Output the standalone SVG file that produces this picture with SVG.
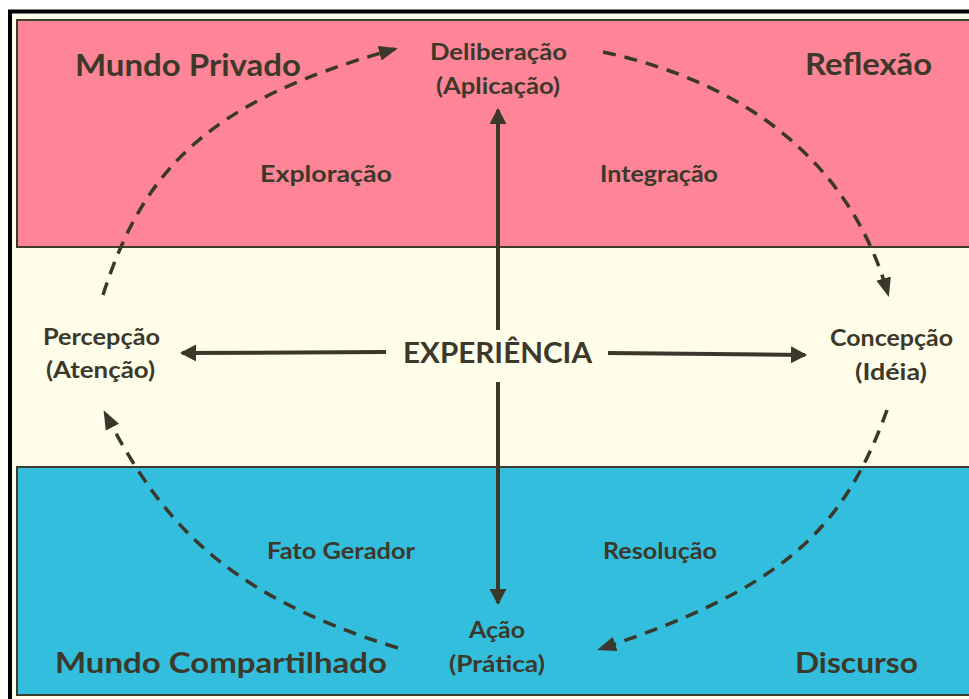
<svg xmlns="http://www.w3.org/2000/svg" width="969" height="699" viewBox="0 0 969 699">
<style>
  text { font-family: Lato, "Open Sans", "Liberation Sans", sans-serif; fill: #3c392b; font-weight: bold; }
  .title { font-size: 31px; }
  .title2 { font-size: 29px; }
  .lbl { font-size: 23px; }
  .big { font-size: 28px; }
  .solid { stroke: #3a382a; stroke-width: 4; fill: none; }
  .dash { stroke: #3a382a; stroke-width: 3.5; fill: none; stroke-dasharray: 13 9; }
</style>
<defs>
  <marker id="ah" markerUnits="userSpaceOnUse" markerWidth="16" markerHeight="17" refX="14" refY="8.5" orient="auto">
    <path d="M0,0 L16,8.5 L0,17 z" fill="#3a382a"/>
  </marker>
  <marker id="dh" markerUnits="userSpaceOnUse" markerWidth="19" markerHeight="15" refX="16" refY="7.5" orient="auto">
    <path d="M0,0 L19,7.5 L0,15 z" fill="#3a382a"/>
  </marker>
</defs>
<rect x="0" y="0" width="969" height="699" fill="#ffffff"/>
<rect x="10" y="11.5" width="975" height="700" fill="#fefdea" stroke="#000000" stroke-width="4"/>
<g id="band-reflexao">
  <rect x="17" y="20" width="960" height="227" fill="#fe8497" stroke="#3d3d2e" stroke-width="2"/>
</g>
<g id="band-discurso">
  <rect x="17" y="467" width="960" height="228" fill="#33bedd" stroke="#3d3d2e" stroke-width="2"/>
</g>
<g id="connectors">
  <line class="solid" x1="498" y1="330" x2="498" y2="110" marker-end="url(#ah)"/>
  <line class="solid" x1="498" y1="382" x2="498" y2="603" marker-end="url(#ah)"/>
  <line class="solid" x1="386" y1="352" x2="182" y2="353" marker-end="url(#ah)"/>
  <line class="solid" x1="608" y1="353" x2="805" y2="355" marker-end="url(#ah)"/>
  <path class="dash" d="M103,295 C143,170 207,101 395,49" marker-end="url(#dh)"/>
  <path class="dash" d="M603,52 C753,84 852,168 888,294" marker-end="url(#dh)"/>
  <path class="dash" d="M887,410 C842,535 777,590 600,649" marker-end="url(#dh)"/>
  <path class="dash" d="M398,648 C218,593 159,516 105,413" marker-end="url(#dh)"/>
</g>
<g id="mundo-privado"><text class="title" x="75" y="76" textLength="226" lengthAdjust="spacingAndGlyphs">Mundo Privado</text></g>
<g id="reflexao"><text class="title" x="805" y="75" textLength="127" lengthAdjust="spacingAndGlyphs">Reflexão</text></g>
<g id="mundo-compartilhado"><text class="title2" x="55" y="673" textLength="332" lengthAdjust="spacingAndGlyphs">Mundo Compartilhado</text></g>
<g id="discurso"><text class="title2" x="795" y="673" textLength="123" lengthAdjust="spacingAndGlyphs">Discurso</text></g>
<g id="deliberacao">
  <text class="lbl" x="430" y="60" textLength="137" lengthAdjust="spacingAndGlyphs">Deliberação</text>
  <text class="lbl" x="436" y="94" textLength="124" lengthAdjust="spacingAndGlyphs">(Aplicação)</text>
</g>
<g id="percepcao">
  <text class="lbl" x="43" y="345" textLength="117" lengthAdjust="spacingAndGlyphs">Percepção</text>
  <text class="lbl" x="46" y="378" textLength="109" lengthAdjust="spacingAndGlyphs">(Atenção)</text>
</g>
<g id="concepcao">
  <text class="lbl" x="830" y="346" textLength="123" lengthAdjust="spacingAndGlyphs">Concepção</text>
  <text class="lbl" x="855" y="380" textLength="72" lengthAdjust="spacingAndGlyphs">(Idéia)</text>
</g>
<g id="acao">
  <text class="lbl" x="469" y="638" textLength="56" lengthAdjust="spacingAndGlyphs">Ação</text>
  <text class="lbl" x="449" y="672" textLength="96" lengthAdjust="spacingAndGlyphs">(Prática)</text>
</g>
<g id="experiencia"><text class="big" x="403" y="363" textLength="189" lengthAdjust="spacingAndGlyphs">EXPERIÊNCIA</text></g>
<g id="exploracao"><text class="lbl" x="260" y="182" textLength="132" lengthAdjust="spacingAndGlyphs">Exploração</text></g>
<g id="integracao"><text class="lbl" x="600" y="182" textLength="118" lengthAdjust="spacingAndGlyphs">Integração</text></g>
<g id="fato-gerador"><text class="lbl" x="267" y="559" textLength="148" lengthAdjust="spacingAndGlyphs">Fato Gerador</text></g>
<g id="resolucao"><text class="lbl" x="603" y="559" textLength="114" lengthAdjust="spacingAndGlyphs">Resolução</text></g>
</svg>
